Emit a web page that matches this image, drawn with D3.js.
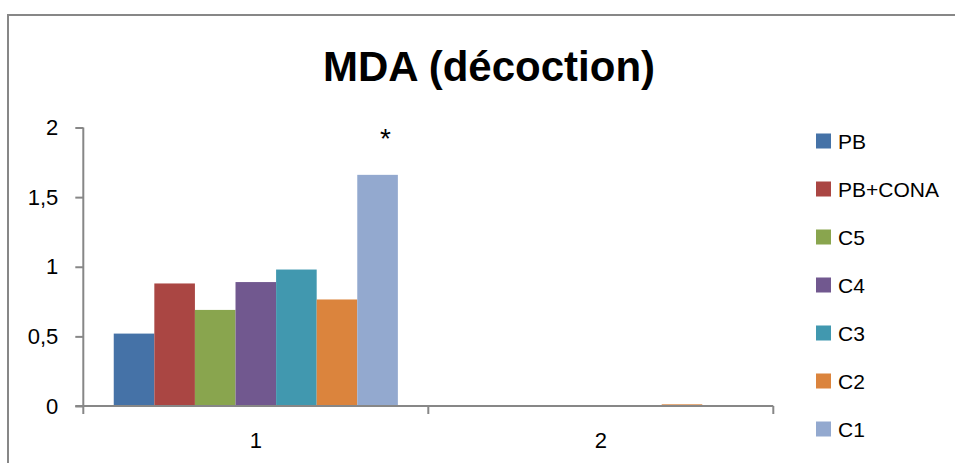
<!DOCTYPE html>
<html><head><meta charset="utf-8">
<script src="https://cdn.jsdelivr.net/npm/d3@7"></script>
<style>
html,body{margin:0;padding:0;background:#fff;}
svg{display:block;font-family:"Liberation Sans",Arial,sans-serif;}
</style></head>
<body><svg id="c" width="955" height="463"></svg>
<script>
const categories = ["1", "2"];
const seriesNames = ["PB", "PB+CONA", "C5", "C4", "C3", "C2", "C1"];
const seriesColors = ["#4572A7", "#AA4643", "#89A54E", "#71588F", "#4198AF", "#DB843D", "#93A9CF"];
const valuesCat1 = [0.52, 0.88, 0.69, 0.89, 0.98, 0.765, 1.66];
const valuesCat2 = [0, 0, 0, 0, 0, 0.012, 0];
const yTicks = [0, 0.5, 1, 1.5, 2];
const title = "MDA (décoction)";
const annotation = "*";

const svg = d3.select("#c");
// outer border
svg.append("rect").attr("x", 8).attr("y", 15).attr("width", 960).attr("height", 470)
  .attr("fill", "none").attr("stroke", "#878787").attr("stroke-width", 2);

const x0 = d3.scaleBand().domain(categories).range([83.3, 773.3]).paddingInner(0).paddingOuter(0);
const y = d3.scaleLinear().domain([0, 2]).range([406, 127.5]);
const groupInner = 7 / (7 + 1.5);
const x1 = d3.scaleBand().domain(seriesNames)
  .range([x0.bandwidth() * (1 - groupInner) / 2, x0.bandwidth() * (1 + groupInner) / 2]);

const data = [valuesCat1, valuesCat2];

// bars
categories.forEach((c, ci) => {
  const g = svg.append("g").attr("transform", `translate(${x0(c)},0)`);
  g.selectAll("rect").data(data[ci].map((v, i) => ({v, s: seriesNames[i], col: seriesColors[i]})))
    .join("rect")
    .attr("x", d => x1(d.s)).attr("width", x1.bandwidth())
    .attr("y", d => y(d.v)).attr("height", d => y(0) - y(d.v))
    .attr("fill", d => d.col);
});

// y axis
const yAxis = d3.axisLeft(y).tickValues(yTicks).tickSize(8).tickPadding(17)
  .tickFormat(d => String(d).replace(".", ","));
const gy = svg.append("g").attr("transform", "translate(83.3,0)").call(yAxis);
gy.select(".domain").attr("stroke", "#878787").attr("stroke-width", 2).attr("d", `M0,${y(2)}V${y(0)}`);
gy.selectAll(".tick line").attr("stroke", "#878787").attr("stroke-width", 2);
gy.selectAll(".tick text").attr("font-size", 22).attr("fill", "#000")
  .attr("font-family", "Liberation Sans, Arial, sans-serif");

// x axis
const gx = svg.append("g").attr("transform", `translate(0,${y(0)})`);
gx.append("line").attr("x1", 83.3 - 8).attr("x2", 773.3).attr("stroke", "#878787").attr("stroke-width", 2);
const boundaries = categories.map(c => x0(c)).concat([x0(categories[categories.length - 1]) + x0.bandwidth()]);
gx.selectAll("line.tk").data(boundaries).join("line").attr("class", "tk")
  .attr("x1", d => d).attr("x2", d => d).attr("y1", 0).attr("y2", 8)
  .attr("stroke", "#878787").attr("stroke-width", 2);
gx.selectAll("text").data(categories).join("text")
  .attr("x", d => x0(d) + x0.bandwidth() / 2).attr("y", 42)
  .attr("text-anchor", "middle").attr("font-size", 22).attr("fill", "#000").text(d => d);

// title
svg.append("text").attr("x", 489).attr("y", 81).attr("text-anchor", "middle")
  .attr("font-size", 42).attr("font-weight", "bold").attr("fill", "#000").text(title);

// annotation asterisk
svg.append("text").attr("x", x0("1") + x1("C1") + x1.bandwidth() / 2 + 8).attr("y", 148)
  .attr("text-anchor", "middle").attr("font-size", 28).attr("fill", "#000").text(annotation);

// legend
const lg = svg.append("g");
const legY = d3.scalePoint().domain(seriesNames).range([141, 429]);
seriesNames.forEach((s, i) => {
  lg.append("rect").attr("x", 816).attr("y", legY(s) - 7.5).attr("width", 15).attr("height", 15)
    .attr("fill", seriesColors[i]);
  lg.append("text").attr("x", 838).attr("y", legY(s) + 8).attr("font-size", 21)
    .attr("fill", "#000").text(s);
});
</script></body></html>
